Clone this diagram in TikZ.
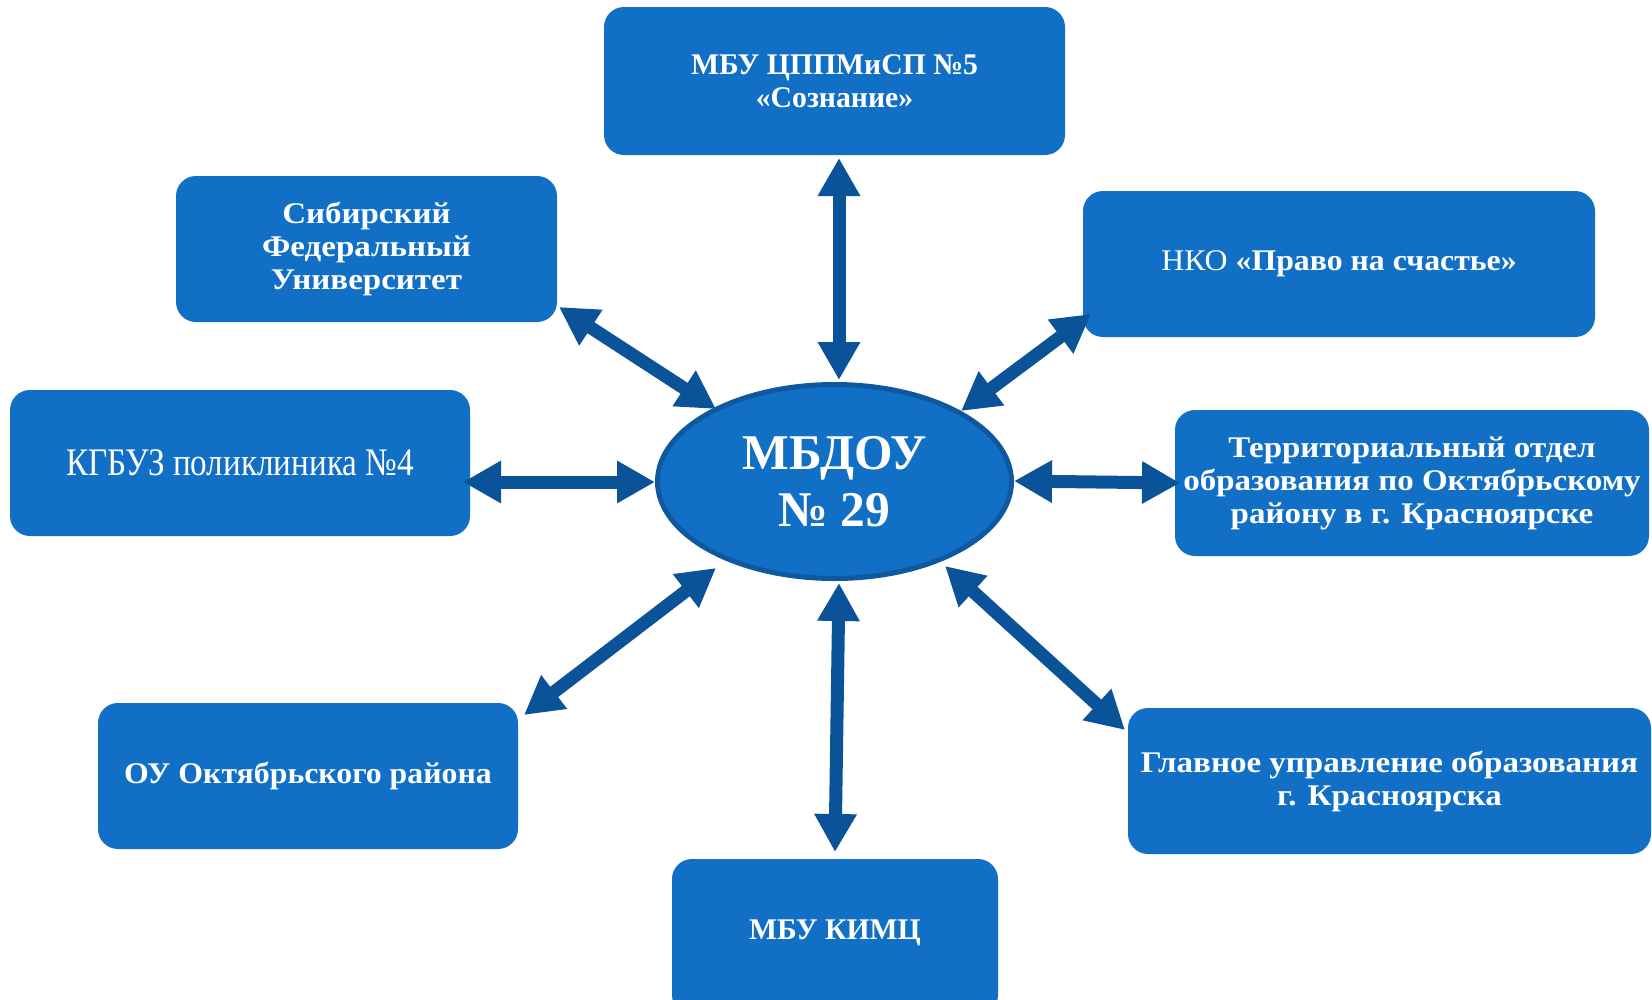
\documentclass[tikz,border=0pt]{standalone}
\usepackage{fontspec}
\setmainfont{Liberation Serif}[FakeStretch=1.1]
\newfontfamily\condfont{Liberation Serif}[FakeStretch=0.85]
\newfontfamily\narrowfont{Liberation Serif}[FakeStretch=0.99]
\newfontfamily\midfont{Liberation Serif}[FakeStretch=1.06]
\usetikzlibrary{arrows.meta,shapes.geometric}
\definecolor{boxblue}{RGB}{17,112,198}
\definecolor{arrblue}{RGB}{10,83,152}
\definecolor{ellborder}{RGB}{14,88,160}
\tikzset{
  org/.style={fill=boxblue, rounded corners=20pt, text=white, align=center,
    font=\bfseries\fontsize{30}{33}\selectfont, inner sep=0pt,
    minimum width=#1, minimum height=146pt},
  link/.style={arrblue, line width=13pt,
    {Triangle[width=40pt,length=38pt]}-{Triangle[width=40pt,length=38pt]}},
}
\begin{document}
\begin{tikzpicture}[x=1pt,y=-1pt]
\useasboundingbox (0,0) rectangle (1652,999);
\fill[white] (0,0) rectangle (1652,999);

\node[org=461pt, minimum height=148pt, font=\narrowfont\bfseries\fontsize{30}{33}\selectfont] (top) at (834.5,81) {МБУ ЦППМиСП №5\\«Сознание»};
\node[org=381pt] (sib) at (366.5,249) {Сибирский\\Федеральный\\Университет};
\node[org=512pt, font=\midfont\bfseries\fontsize{30}{33}\selectfont] (nko) at (1339,264) {\mdseries НКО \bfseries«Право на счастье»};
\node[org=460pt] (kgb) at (240,463) {\condfont\mdseries\fontsize{39}{42}\selectfont КГБУЗ поликлиника №4};
\node[org=474pt] (terr) at (1412,483) {Территориальный отдел\\образования по Октябрьскому\\району в г. Красноярске};
\node[org=420pt, font=\midfont\bfseries\fontsize{30}{33}\selectfont] (ou) at (308,776) {ОУ Октябрьского района};
\node[org=523pt] (glav) at (1389.5,781) {Главное управление образования\\г. Красноярска};
\node[org=326pt, minimum height=156pt, text depth=0pt, font=\narrowfont\bfseries\fontsize{30}{33}\selectfont] (kimc) at (835,937) {\raisebox{14pt}{МБУ КИМЦ}};

\node[ellipse, draw=ellborder, line width=5pt, fill=boxblue, minimum width=354pt,
  minimum height=194pt, inner sep=0pt, text=white, align=center,
  font=\narrowfont\bfseries\fontsize{50}{57}\selectfont] (mbdou) at (834.5,481.5) {МБДОУ\\№ 29};

\coordinate (pTop) at (839,158);   \coordinate (eTop) at (839,380);
\coordinate (pSib) at (559,307);   \coordinate (eSib) at (716,409);
\coordinate (pNko) at (1091,314);  \coordinate (eNko) at (961,411);
\coordinate (pKgb) at (463,482);   \coordinate (eKgb) at (655,482);
\coordinate (pTerr) at (1180,483); \coordinate (eTerr) at (1014,481);
\coordinate (pOu) at (524,715);    \coordinate (eOu) at (716,568);
\coordinate (pGlav) at (1125,730); \coordinate (eGlav) at (945,566);
\coordinate (pKimc) at (835,852);  \coordinate (eKimc) at (839,583);

\draw[link] (pTop) -- (eTop);
\draw[link] (pSib) -- (eSib);
\draw[link] (pNko) -- (eNko);
\draw[link] (pKgb) -- (eKgb);
\draw[link] (pTerr) -- (eTerr);
\draw[link] (pOu) -- (eOu);
\draw[link] (pGlav) -- (eGlav);
\draw[link] (pKimc) -- (eKimc);
\end{tikzpicture}
\end{document}
